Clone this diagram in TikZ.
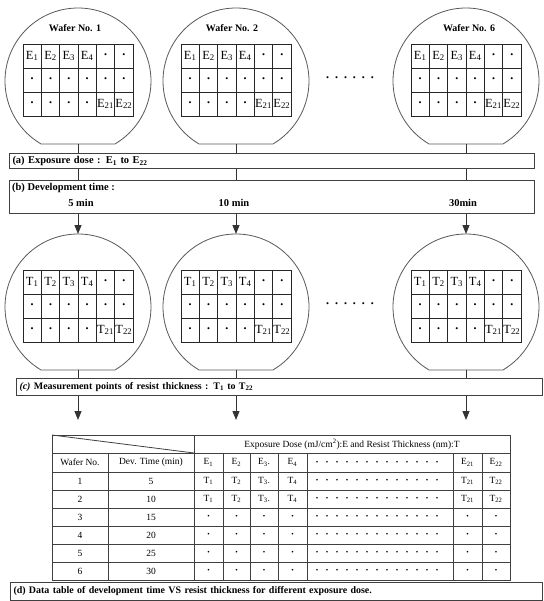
\documentclass[tikz,border=0pt]{standalone}
\usepackage{fontspec}
\setmainfont{Liberation Serif}
\usetikzlibrary{arrows.meta}

\tikzset{
  wafer/.style={draw=black!65, line width=0.8bp},
  cellgrid/.style={draw=black!85, line width=0.9bp},
  cell/.style={inner sep=0pt, font=\fontsize{12.5}{12.5}\selectfont},
  celldot/.style={inner sep=0pt, font=\fontsize{8.5}{8.5}\selectfont},
  title/.style={inner sep=0pt, font=\fontsize{10}{10}\selectfont\bfseries},
  bar/.style={draw=black!75, line width=1bp, anchor=north west, inner xsep=3bp, inner ysep=0pt, align=left, font=\fontsize{10.5}{12}\selectfont\bfseries},
  lab/.style={inner sep=0pt, font=\fontsize{10.5}{12}\selectfont\bfseries},
  link/.style={draw=black!80, line width=0.9bp},
  tip/.style={link, -{Triangle[width=7bp,length=9bp]}},
  rule/.style={draw=black!75, line width=0.8bp},
  tab/.style={inner sep=0pt, font=\fontsize{9.5}{9.5}\selectfont},
  tabdot/.style={inner sep=0pt, font=\fontsize{7}{7}\selectfont},
}

% wafer: name, centre x, centre y, letter
\newcommand{\wafer}[4]{
  \begin{scope}[shift={(#2,#3)}]
    \draw[wafer] (124.7:73) arc[start angle=124.7, end angle=415.3, radius=73] -- (37,63) -- (-37,63) -- cycle;
    \coordinate (#1top) at (0,-73);
    \coordinate (#1bot) at (0,63);
    \draw[cellgrid] (-55,-37) rectangle (55,35);
    \draw[cellgrid] (-55,-13) -- (55,-13) (-55,11) -- (55,11);
    \foreach \k in {1,...,5} \draw[cellgrid] ({-55+\k*110/6},-37) -- ({-55+\k*110/6},35);
    \foreach \k in {1,...,4} \node[cell] (#1-a\k) at ({-55+(\k-0.5)*110/6},-25) {#4\textsubscript{\k}};
    \foreach \k in {5,6} \node[celldot] (#1-a\k) at ({-55+(\k-0.5)*110/6},-25) {\textbullet};
    \foreach \k in {1,...,6} \node[celldot] (#1-b\k) at ({-55+(\k-0.5)*110/6},-1) {\textbullet};
    \foreach \k in {1,...,4} \node[celldot] (#1-c\k) at ({-55+(\k-0.5)*110/6},23) {\textbullet};
    \node[cell] (#1-c5) at ({-55+4.5*110/6},23) {#4\textsubscript{21}};
    \node[cell] (#1-c6) at ({-55+5.5*110/6},23) {#4\textsubscript{22}};
  \end{scope}
}

\begin{document}
\begin{tikzpicture}[x=1bp, y=-1bp]
\path[use as bounding box, fill=white] (0,0) rectangle (544,601);

%Wafers
\wafer{wa}{78}{81}{E}
\wafer{wb}{236}{81}{E}
\wafer{wc}{466}{81}{E}
\node[title] (ta) at (75,28) {Wafer No. 1};
\node[title] (tb) at (232,28) {Wafer No. 2};
\node[title] (tc) at (469,28) {Wafer No. 6};
\node[celldot] (gap1) at (350,79) {\textbullet\hspace{6bp}\textbullet\hspace{6bp}\textbullet\hspace{6bp}\textbullet\hspace{6bp}\textbullet\hspace{6bp}\textbullet};

\wafer{wd}{78}{307}{T}
\wafer{we}{236}{307}{T}
\wafer{wf}{466}{307}{T}
\node[celldot] (gap2) at (350,305) {\textbullet\hspace{6bp}\textbullet\hspace{6bp}\textbullet\hspace{6bp}\textbullet\hspace{6bp}\textbullet\hspace{6bp}\textbullet};

%Steps
\node[bar, text width=519bp, minimum height=15bp] (boxa) at (9,153) {(a) Exposure dose : E\textsubscript{1} to E\textsubscript{22}};
\node[bar, text width=519bp, minimum height=33bp] (boxb) at (9,180) {};
\node[lab, anchor=west] (blab) at (12,188) {(b) Development time :};
\node[lab] (m5) at (81,203) {5 min};
\node[lab] (m10) at (234,203) {10 min};
\node[lab] (m30) at (463,203) {30min};
\node[bar, text width=520bp, minimum height=17bp, font=\fontsize{10}{12}\selectfont\bfseries] (boxc) at (16,378) {\textit{(c)} Measurement points of resist thickness : T\textsubscript{1} to T\textsubscript{22}};

\coordinate (ad) at (78,420);
\coordinate (ae) at (236,420);
\coordinate (af) at (466,420);
\foreach \u/\l in {wa/wd, wb/we, wc/wf} {
  \draw[link] (\u bot) -- (\u bot |- boxa.north);
  \draw[link] (\u bot |- boxa.south) -- (\u bot |- boxb.north);
  \draw[tip] (\u bot |- boxb.south) -- (\l top);
}
\foreach \l/\e in {wd/ad, we/ae, wf/af} {
  \draw[link] (\l bot) -- (\l bot |- boxc.north);
  \draw[tip] (\l bot |- boxc.south) -- (\e);
}

%Table
\draw[rule] (52,435) rectangle (510,580);
\foreach \y in {453,472,490,508,526,544,562} \draw[rule] (52,\y) -- (510,\y);
\foreach \x in {108,223,250,278,307,453,482} \draw[rule] (\x,453) -- (\x,580);
\draw[rule] (194,435) -- (194,580);
\draw[rule] (52,435) -- (194,453);
\node[tab] (hd) at (352,444) {Exposure Dose (mJ/cm\textsuperscript{2}):E and Resist Thickness (nm):T};
\node[tab] (hw) at (80,462.5) {Wafer No.};
\node[tab] (ht) at (151,462.5) {Dev. Time (min)};
\foreach \s/\x [count=\c] in {1/208.5,2/236.5,3/264,4/292.5,21/467.5,22/496}
  \node[tab] (he\c) at (\x,462.5) {E\textsubscript{\s}\ifnum\c=3 .\fi};
\foreach \k in {0,...,12} \node[tabdot] (hd\k) at ({317+\k*10},462.5) {\textbullet};
\foreach \w/\t [count=\r] in {1/5,2/10,3/15,4/20,5/25,6/30}{
  \pgfmathsetmacro\yy{463+18*\r}
  \node[tab] (wn\r) at (80,\yy) {\w};
  \node[tab] (dt\r) at (151,\yy) {\t};
  \foreach \k in {0,...,12} \node[tabdot] (dd\r-\k) at ({317+\k*10},\yy) {\textbullet};
  \ifnum\r<3
    \foreach \s/\x [count=\c] in {1/208.5,2/236.5,3/264,4/292.5,21/467.5,22/496}
      \node[tab] (tv\r-\c) at (\x,\yy) {T\textsubscript{\s}\ifnum\c=3 .\fi};
  \else
    \foreach \x [count=\c] in {208.5,236.5,264,292.5,467.5,496}
      \node[tabdot] (tv\r-\c) at (\x,\yy) {\textbullet};
  \fi
}
\node[bar, text width=526bp, minimum height=18bp, font=\fontsize{10}{12}\selectfont\bfseries] (boxd) at (10,582) {(d) Data table of development time VS resist thickness for different exposure dose.};

\end{tikzpicture}
\end{document}
